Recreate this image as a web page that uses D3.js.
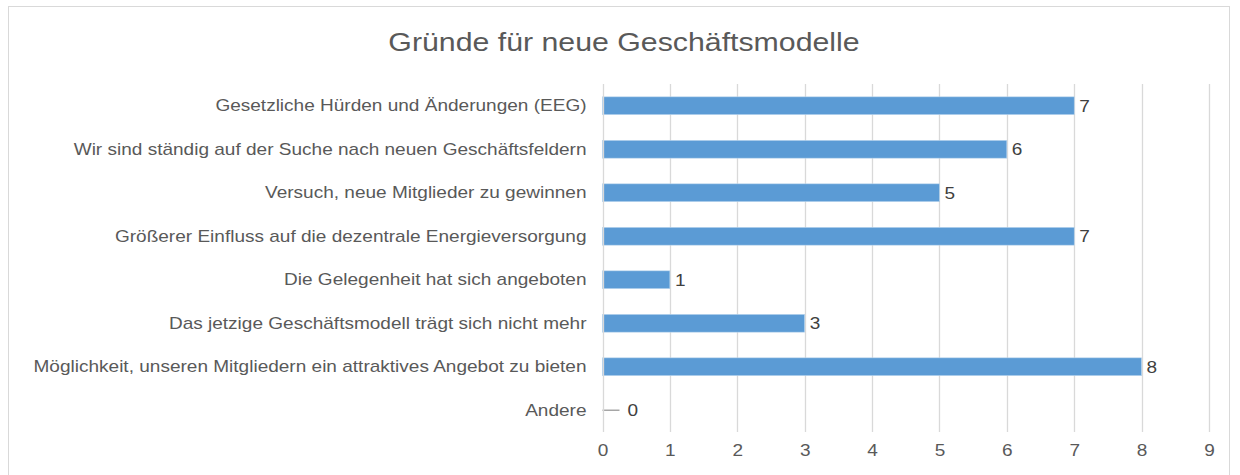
<!DOCTYPE html>
<html>
<head>
<meta charset="utf-8">
<script src="https://cdn.jsdelivr.net/npm/d3@7"></script>
<style>
  html, body { margin: 0; padding: 0; background: #fff; }
  svg text { font-family: "Liberation Sans", Arial, sans-serif; }
</style>
</head>
<body>
<svg id="chart" width="1240" height="475"></svg>
<script>
const title = "Gründe für neue Geschäftsmodelle";
const categories = [
  "Gesetzliche Hürden und Änderungen (EEG)",
  "Wir sind ständig auf der Suche nach neuen Geschäftsfeldern",
  "Versuch, neue Mitglieder zu gewinnen",
  "Größerer Einfluss auf die dezentrale Energieversorgung",
  "Die Gelegenheit hat sich angeboten",
  "Das jetzige Geschäftsmodell trägt sich nicht mehr",
  "Möglichkeit, unseren Mitgliedern ein attraktives Angebot zu bieten",
  "Andere"
];
const values = [7, 6, 5, 7, 1, 3, 8, 0];
const xTicks = [0, 1, 2, 3, 4, 5, 6, 7, 8, 9];

const SX = 1.12; // horizontal stretch of text in reference
const svg = d3.select("#chart");
const W = 1240, H = 475;
const margin = { left: 602.5, right: 31, top: 84, bottom: 43 };

// frame
svg.append("rect").attr("x", 8.5).attr("y", 6.5).attr("width", 1221).attr("height", 480)
  .attr("fill", "#fff").attr("stroke", "#d9d9d9").attr("stroke-width", 1);

const x = d3.scaleLinear().domain([0, 9]).range([margin.left, W - margin.right]);
const y = d3.scaleBand().domain(categories).range([margin.top, H - margin.bottom]).paddingInner(0.59).paddingOuter(0.295);

// gridlines
svg.append("g").selectAll("line").data(xTicks.slice(1)).join("line")
  .attr("x1", d => Math.round(x(d)) + 0.5).attr("x2", d => Math.round(x(d)) + 0.5)
  .attr("y1", margin.top).attr("y2", H - margin.bottom)
  .attr("stroke", "#d9d9d9").attr("stroke-width", 1.3);

// x axis labels
const xAxis = d3.axisBottom(x).tickValues(xTicks).tickSize(0).tickPadding(12);
const gx = svg.append("g").attr("transform", `translate(0,${H - margin.bottom})`).call(xAxis);
gx.select(".domain").remove();
gx.selectAll("text").attr("font-size", 17).attr("fill", "#595959")
  .attr("transform", `scale(${SX},1)`)
  .style("font-family", '"Liberation Sans", Arial, sans-serif');

// bars
svg.append("g").selectAll("rect").data(values).join("rect")
  .attr("x", x(0)).attr("y", (d, i) => y(categories[i]))
  .attr("width", d => x(d) - x(0)).attr("height", y.bandwidth())
  .attr("fill", "#5b9bd5").attr("stroke", "#bdd7ee").attr("stroke-width", 0.6);

// zero marker
svg.append("g").selectAll("line").data(values.filter(v => v === 0)).join("line")
  .attr("x1", x(0)).attr("x2", x(0) + 17)
  .attr("y1", y(categories[values.indexOf(0)]) + y.bandwidth() / 2)
  .attr("y2", y(categories[values.indexOf(0)]) + y.bandwidth() / 2)
  .attr("stroke", "#a6a6a6").attr("stroke-width", 1.5);

// y axis line
svg.append("line").attr("x1", Math.round(x(0)) + 0.5).attr("x2", Math.round(x(0)) + 0.5)
  .attr("y1", margin.top).attr("y2", H - margin.bottom)
  .attr("stroke", "#d9d9d9").attr("stroke-width", 1.3);

// y axis labels
const yAxis = d3.axisLeft(y).tickSize(0).tickPadding(16);
const gy = svg.append("g").attr("transform", `translate(${x(0)},0)`).call(yAxis);
gy.select(".domain").remove();
gy.selectAll("text").attr("font-size", 17).attr("fill", "#595959")
  .attr("x", -16 / SX).attr("transform", `scale(${SX},1)`)
  .style("font-family", '"Liberation Sans", Arial, sans-serif');

// data labels
svg.append("g").selectAll("text").data(values).join("text")
  .attr("transform", (d, i) => `translate(${x(d) + (d === 0 ? 25 : 5)},${y(categories[i]) + y.bandwidth() / 2}) scale(${SX},1)`)
  .attr("dy", "0.36em")
  .attr("font-size", 17).attr("fill", "#404040")
  .text(d => d);

// title
svg.append("text").attr("transform", `translate(624,51) scale(1.165,1)`).attr("text-anchor", "middle")
  .attr("font-size", 26).attr("fill", "#595959").text(title);
</script>
</body>
</html>
